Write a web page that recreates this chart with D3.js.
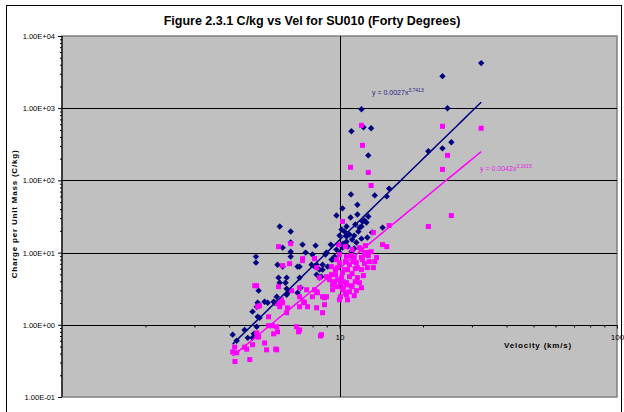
<!DOCTYPE html>
<html>
<head>
<meta charset="utf-8">
<script src="https://cdn.jsdelivr.net/npm/d3@7"></script>
<style>
  body { margin: 0; background: #fff; }
  svg { display: block; font-family: Arial, "Liberation Sans", sans-serif; }
</style>
</head>
<body>
<svg id="chart" width="624" height="412"></svg>
<script>
// navy diamonds
const blueVel = [32.4, 23.5, 12.0, 24.5, 11.04, 12.2, 13.0, 12.7, 23.5, 25.3, 20.9, 15.1, 14.8, 11.0, 13.4, 11.6,
  10.25, 9.75, 10.96, 11.6, 12.7, 12.3, 14.3, 11.8, 10.6, 10.17, 10.86, 11.4, 11.7, 12.0, 10.6, 10.6, 11.1,
  10.25, 10.7, 11.3, 10.0, 9.6, 9.36, 9.06, 8.27, 8.47, 8.13, 8.6, 8.9, 9.75, 9.3, 8.2, 7.36, 7.55, 6.67,
  6.24, 6.67, 6.67, 5.0, 5.0, 6.03, 6.45, 7.06, 7.18, 7.24, 6.45, 6.09, 5.94, 6.56, 5.11, 5.37, 5.51, 5.84,
  5.07, 5.15, 4.12, 4.26, 4.67, 4.86, 5.03, 4.55, 4.86, 5.98, 6.24, 7.93, 6.09, 6.67, 12.1, 12.5, 13.1,
  12.6, 12.0, 11.5, 8.98, 8.69, 9.44, 8.69, 8.47, 4.91, 6.39, 7.06, 6.45, 5.79, 5.07, 5.03, 7.18, 8.27,
  7.99, 10.42, 11.04, 10.0, 11.3, 10.3];
const blueCkg = [4217, 2780, 969, 1000, 479, 545, 528, 222, 278, 337, 253, 77, 60, 64, 62, 46,
  41, 32.6, 30.6, 33.7, 31.6, 27.8, 22.2, 22.2, 23.0, 20.9, 17.8, 24.5, 19.6, 23.0, 16.7, 14.2, 15.2,
  11.7, 12.1, 11.4, 10.0, 8.8, 8.0, 6.4, 4.95, 5.8, 6.4, 4.64, 9.4, 11.0, 12.9, 12.5, 12.9, 10.0, 13.8,
  11.7, 10.3, 8.8, 8.8, 7.26, 4.5, 4.5, 6.4, 4.5, 3.26, 3.16, 3.83, 2.45, 2.87, 2.97, 2.09, 2.02, 2.02,
  1.29, 1.25, 0.73, 0.60, 0.66, 0.66, 0.94, 0.85, 1.52, 6.8, 6.4, 6.8, 23.0, 19.6, 27.0, 26.1, 19.0,
  16.2, 15.6, 13.8, 10.0, 6.8, 8.0, 5.81, 4.5, 0.75, 3.83, 2.78, 2.61, 2.09, 2.02, 1.78, 6.39, 6.8,
  9.4, 19.6, 10.3, 17.2, 17.2, 13.3];

// magenta squares
const pinkVel = [32.4, 23.5, 12.0, 12.1, 24.5, 23.5, 10.96, 12.7, 13.0, 25.3, 20.9, 15.1, 13.25, 10.25, 14.3,
  14.8, 6.67, 6.03, 7.36, 8.13, 6.61, 6.24, 4.95, 6.03, 6.72, 5.07, 5.98, 6.24, 7.18, 7.48, 5.03, 5.55,
  5.74, 5.98, 7.0, 7.18, 8.61, 4.19, 4.55, 4.86, 5.46, 5.89, 4.75, 4.2, 4.12, 5.37, 5.11, 7.67, 8.27, 8.83,
  8.33, 8.69, 8.13, 7.18, 7.61, 8.47, 8.98, 9.44, 9.59, 9.84, 10.25, 10.6, 10.25, 12.7, 12.3, 12.0, 11.4,
  11.1, 11.5, 11.0, 10.5, 10.08, 8.83, 8.69, 8.54, 9.92, 10.5, 11.1, 12.0, 12.5, 12.1, 11.5, 10.6, 10.0,
  9.75, 9.36, 9.21, 9.44, 9.84, 10.6, 11.1, 10.6, 8.98, 8.27, 7.99, 7.42, 7.18, 6.5, 6.45, 6.09, 5.55,
  5.15, 5.03, 6.18, 5.94, 7.12, 5.79, 5.07, 4.63, 4.26, 5.94, 8.27, 7.36, 10.86, 10.42, 11.6, 12.0, 10.0,
  11.3, 12.4, 13.0, 11.8, 10.86, 9.67, 10.3, 13.4, 12.6,
  9.67, 10.17, 10.69, 11.2, 11.6, 12.2, 12.8, 10.33, 10.86, 11.4, 12.0, 9.84, 10.5, 11.04, 11.8, 12.3,
  13.25, 13.6, 10.08, 11.3, 9.36, 10.0, 10.69];
const pinkCkg = [528, 562, 580, 306, 222, 142, 152, 129, 85, 32.6, 23.0, 23.7, 19.0, 27.0, 12.9,
  12.1, 13.3, 12.1, 8.25, 8.25, 7.03, 6.6, 3.48, 3.37, 2.97, 1.78, 1.96, 2.02, 2.45, 2.02, 0.77, 0.97,
  0.97, 0.80, 0.94, 0.85, 0.73, 0.49, 0.49, 0.53, 0.45, 0.46, 0.33, 0.31, 0.42, 0.56, 0.68, 1.78, 1.72, 1.90,
  2.78, 2.45, 3.06, 3.26, 3.06, 4.5, 4.64, 3.06, 3.96, 3.37, 3.06, 3.83, 5.27, 9.09, 7.03, 8.53, 6.0,
  5.11, 2.97, 3.48, 2.78, 2.45, 2.37, 1.47, 0.70, 12.9, 12.1, 11.0, 11.0, 10.0, 8.0, 7.26, 8.8, 9.38,
  8.0, 6.39, 4.22, 3.59, 4.22, 3.59, 3.37, 2.61, 2.45, 2.87, 2.45, 2.09, 1.78, 1.72, 1.47, 1.78, 1.29,
  1.84, 3.48, 2.22, 0.94, 0.80, 0.75, 0.68, 0.46, 0.41, 0.45, 6.19, 7.74, 6.81, 5.81, 4.5, 5.81, 7.26,
  8.53, 12.5, 10.3, 3.83, 4.64, 5.81, 3.96, 7.5, 6.19,
  4.95, 4.5, 5.81, 7.5, 6.19, 4.8, 7.5, 3.26, 2.87, 3.96, 3.26, 6.19, 7.5, 9.09, 11.7, 9.38,
  6.19, 8.53, 3.7, 2.53, 4.95, 2.22, 2.22];

// power trendlines y = a * x^b
const blueFit = { a: 0.0027, b: 3.7413, label: "3.7413" };
const pinkFit = { a: 0.0042, b: 3.1615, label: "3.1615" };

const yTicks = [0.1, 1, 10, 100, 1000, 10000];
const xTicks = [10, 100];

const svg = d3.select("#chart");

svg.append("rect")
  .attr("x", 6.5).attr("y", 5.5).attr("width", 615).attr("height", 420)
  .attr("fill", "#fff").attr("stroke", "#000").attr("stroke-width", 1);

const x = d3.scaleLog().domain([1, 100]).range([62, 617]);
const y = d3.scaleLog().domain([0.1, 10000]).range([397, 36]);

// plot area
svg.append("rect")
  .attr("x", x(1)).attr("y", y(10000))
  .attr("width", x(100) - x(1)).attr("height", y(0.1) - y(10000))
  .attr("fill", "#c0c0c0").attr("stroke", "#808080").attr("stroke-width", 1.5);

// gridlines
svg.append("g").selectAll("line")
  .data(yTicks.slice(1, -1))
  .join("line")
  .attr("x1", x(1)).attr("x2", x(100))
  .attr("y1", d => Math.round(y(d)) + 0.5).attr("y2", d => Math.round(y(d)) + 0.5)
  .attr("stroke", "#000").attr("stroke-width", 1);

svg.append("line")
  .attr("x1", Math.round(x(10)) + 0.5).attr("x2", Math.round(x(10)) + 0.5)
  .attr("y1", y(10000)).attr("y2", y(0.1))
  .attr("stroke", "#000").attr("stroke-width", 1);

// minor tick values
const yMinor = [];
for (let e = -1; e < 4; e++) for (let m = 2; m < 10; m++) yMinor.push(m * Math.pow(10, e));
const xMinor = [];
for (let e = 0; e < 2; e++) for (let m = 2; m < 10; m++) xMinor.push(m * Math.pow(10, e));

function sci(d) {
  const p = Math.round(Math.log10(d));
  return "1.00E" + (p < 0 ? "-" : "+") + String(Math.abs(p)).padStart(2, "0");
}

// y axis
const yAxis = svg.append("g")
  .attr("transform", `translate(${x(1)},0)`)
  .call(d3.axisLeft(y).tickValues(yTicks).tickSize(4).tickPadding(3).tickFormat(sci));
yAxis.select(".domain").remove();
yAxis.selectAll("text").style("font-size", "7.5px").attr("fill", "#000");

svg.append("g")
  .attr("transform", `translate(${x(1)},0)`)
  .call(d3.axisLeft(y).tickValues(yMinor).tickSize(2).tickFormat(""))
  .select(".domain").remove();

svg.append("line")
  .attr("x1", x(1)).attr("x2", x(1)).attr("y1", y(10000)).attr("y2", y(0.1))
  .attr("stroke", "#000").attr("stroke-width", 1.2);

// x axis crossing at 1
const xAxis = svg.append("g")
  .attr("transform", `translate(0,${Math.round(y(1)) + 0.5})`)
  .call(d3.axisBottom(x).tickValues(xTicks).tickSize(3).tickPadding(6).tickFormat(d3.format("d")));
xAxis.select(".domain").remove();
xAxis.selectAll("text").style("font-size", "8px").attr("fill", "#000");

svg.append("g")
  .attr("transform", `translate(0,${Math.round(y(1)) + 0.5})`)
  .call(d3.axisBottom(x).tickValues(xMinor).tickSize(2).tickFormat(""))
  .select(".domain").remove();

svg.append("line")
  .attr("x1", x(1)).attr("x2", x(100))
  .attr("y1", Math.round(y(1)) + 0.5).attr("y2", Math.round(y(1)) + 0.5)
  .attr("stroke", "#000").attr("stroke-width", 1.2);

// trendlines
function fitLine(fit, vel, color) {
  const lo = d3.min(vel), hi = d3.max(vel);
  const pts = d3.range(0, 41).map(i => lo * Math.pow(hi / lo, i / 40));
  svg.append("path")
    .datum(pts)
    .attr("fill", "none").attr("stroke", color).attr("stroke-width", 1.5)
    .attr("d", d3.line().x(d => x(d)).y(d => y(fit.a * Math.pow(d, fit.b))));
}

// points
const blue = blueVel.map((v, i) => [v, blueCkg[i]]);
const pink = pinkVel.map((v, i) => [v, pinkCkg[i]]);

svg.append("g").selectAll("path")
  .data(blue)
  .join("path")
  .attr("transform", d => `translate(${x(d[0])},${y(d[1])})`)
  .attr("d", d3.symbol(d3.symbolDiamond2, 26))
  .attr("fill", "#000080");

svg.append("g").selectAll("rect")
  .data(pink)
  .join("rect")
  .attr("x", d => x(d[0]) - 2.5).attr("y", d => y(d[1]) - 2.5)
  .attr("width", 5).attr("height", 5)
  .attr("fill", "#ff00ff");

fitLine(blueFit, blueVel, "#000080");
fitLine(pinkFit, pinkVel, "#ff00ff");

// equation labels
function eqLabel(fit, px, py, color) {
  const t = svg.append("text")
    .attr("x", px).attr("y", py)
    .attr("fill", color).style("font-size", "7px");
  t.append("tspan").text(`y = ${fit.a}x`);
  t.append("tspan").attr("dy", -3).style("font-size", "5px").text(fit.label);
}
eqLabel(blueFit, 372, 95, "#202080");
eqLabel(pinkFit, 480, 171, "#e020e0");

// titles
svg.append("text")
  .attr("x", 312).attr("y", 25).attr("text-anchor", "middle")
  .style("font-size", "12.5px").style("font-weight", "bold")
  .text("Figure 2.3.1 C/kg vs Vel for SU010 (Forty Degrees)");

svg.append("text")
  .attr("transform", "translate(17,214) rotate(-90)")
  .attr("text-anchor", "middle")
  .style("font-size", "8px").style("font-weight", "bold").style("letter-spacing", "0.8px")
  .text("Charge per Unit Mass (C/kg)");

svg.append("text")
  .attr("x", 538).attr("y", 348).attr("text-anchor", "middle")
  .style("font-size", "8px").style("font-weight", "bold").style("letter-spacing", "0.8px")
  .text("Velocity (km/s)");
</script>
</body>
</html>
